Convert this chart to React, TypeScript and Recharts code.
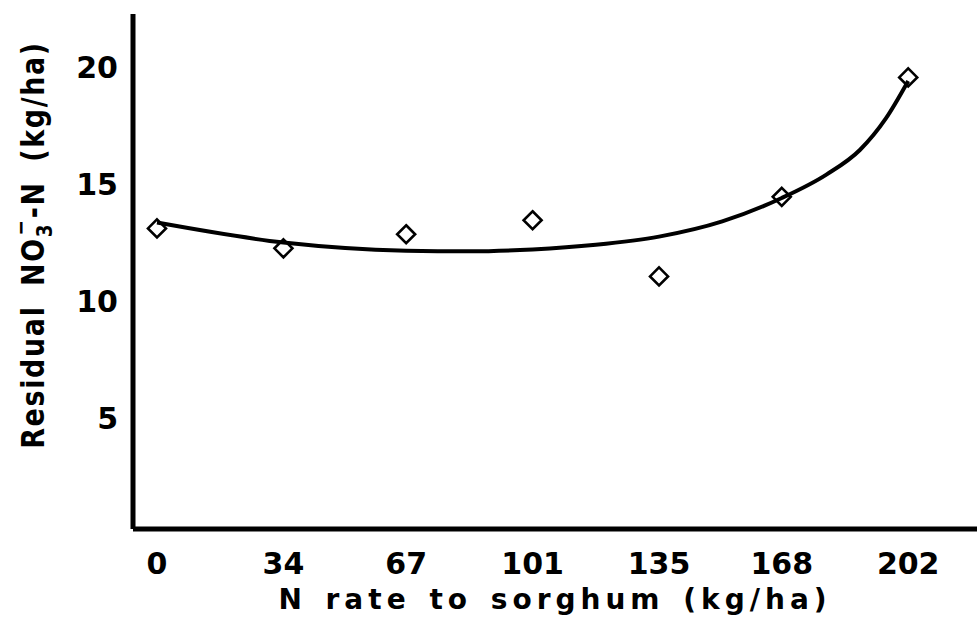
import React from 'react';
import { ComposedChart, Line, Scatter, XAxis, YAxis } from 'recharts';

// measured points
const rates = [0, 34, 67, 101, 135, 168, 202];
const residualNO3 = [13.1, 12.25, 12.85, 13.45, 11.05, 14.45, 19.55];

// fitted curve
const fitRates = [0, 34, 67, 84, 101, 118, 135, 152, 168, 180, 189, 196, 202];
const fitValues = [13.35, 12.5, 12.15, 12.12, 12.2, 12.4, 12.75, 13.4, 14.4, 15.4, 16.45, 17.8, 19.4];

const xTicks = [0, 34, 67, 101, 135, 168, 202];
const yTicks = [5, 10, 15, 20];

const points = rates.map((x, i) => ({ x, y: residualNO3[i] }));
const curve = fitRates.map((x, i) => ({ x, y: fitValues[i] }));

const FONT = '"DejaVu Sans", sans-serif';
const axisStyle = { stroke: '#000', strokeWidth: 5 };
const tickStyle = { fill: '#000', fontSize: 30, fontWeight: 'bold', fontFamily: FONT };

const Diamond = (props: any) => {
  const { cx, cy } = props;
  const r = 9;
  return (
    <polygon
      points={`${cx},${cy - r} ${cx + r},${cy} ${cx},${cy + r} ${cx - r},${cy}`}
      fill="none"
      stroke="#000"
      strokeWidth={2.6}
    />
  );
};

const XTitle = (props: any) => {
  const { viewBox } = props;
  return (
    <text
      x={viewBox.x + viewBox.width / 2}
      y={viewBox.y + 80}
      textAnchor="middle"
      fontFamily={FONT}
      fontWeight="bold"
      fontSize={28}
      letterSpacing={5}
      wordSpacing={4}
      fill="#000"
    >
      N rate to sorghum (kg/ha)
    </text>
  );
};

const YTitle = (props: any) => {
  const { viewBox } = props;
  const cx = 44;
  const cy = viewBox.y + 231;
  return (
    <text
      transform={`translate(${cx},${cy}) rotate(-90) scale(0.84,1)`}
      textAnchor="middle"
      fontFamily={FONT}
      fontWeight="bold"
      fontSize={32}
      letterSpacing={2}
      wordSpacing={10}
      fill="#000"
    >
      Residual NO
      <tspan fontSize={22} dy={8}>3</tspan>
      <tspan fontSize={22} dx={-15} dy={-24}>−</tspan>
      <tspan dy={16}>-N (kg/ha)</tspan>
    </text>
  );
};

export default function App() {
  return (
    <div style={{ position: 'absolute', left: 0, top: 0, background: '#fff' }}>
      <ComposedChart width={977} height={617} margin={{ top: 14, right: 0, bottom: 0, left: 0 }}>
        <XAxis
          type="number"
          dataKey="x"
          domain={[-6.45, 220.5]}
          allowDataOverflow
          ticks={xTicks}
          tickLine={false}
          tickSize={0}
          tickMargin={24}
          axisLine={axisStyle}
          tick={tickStyle}
          height={88}
          label={{ content: <XTitle /> }}
        />
        <YAxis
          type="number"
          dataKey="y"
          domain={[0.26, 22.26]}
          allowDataOverflow
          ticks={yTicks}
          tickLine={false}
          tickSize={0}
          tickMargin={15}
          axisLine={axisStyle}
          tick={tickStyle}
          width={133}
          label={{ content: <YTitle /> }}
        />
        <Line
          data={curve}
          dataKey="y"
          type="monotone"
          stroke="#000"
          strokeWidth={4}
          dot={false}
          activeDot={false}
          isAnimationActive={false}
        />
        <Scatter data={points} dataKey="y" shape={<Diamond />} isAnimationActive={false} />
      </ComposedChart>
    </div>
  );
}
